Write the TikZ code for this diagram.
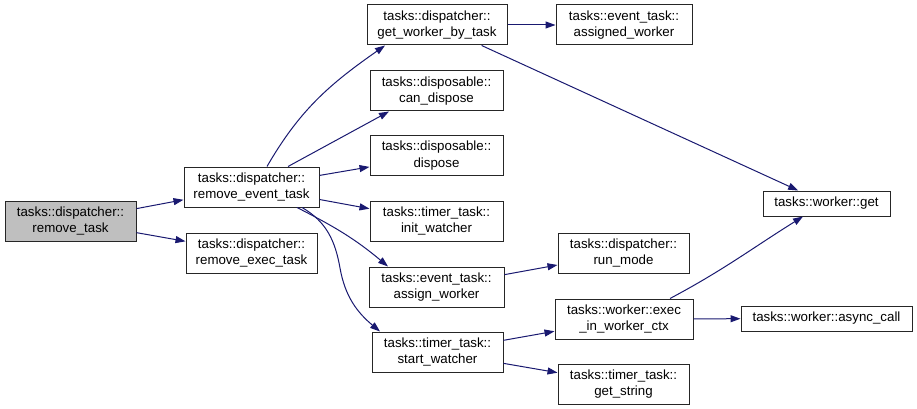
\documentclass[tikz,border=0pt]{standalone}
\usepackage{fontspec}
\setmainfont{Liberation Sans}
\usetikzlibrary{arrows.meta}
\definecolor{mblue}{HTML}{191970}
\definecolor{gray75}{HTML}{BFBFBF}
\begin{document}
\begin{tikzpicture}[x=1pt,y=1pt,
  box/.style={draw=black!85, line width=1pt, fill=white, inner sep=0pt, align=center, rectangle,
    minimum height=40, font=\fontsize{13.3}{16.5}\selectfont},
  edge/.style={draw=mblue, line width=1pt, -{Triangle[length=10pt,width=7pt]}, color=mblue}]
\path[use as bounding box] (0,0) rectangle (917,-409);
% column 1
\node[box, fill=gray75, minimum width=131] (rt) at (70.5,-221) {tasks::dispatcher::\\remove\_task};
% column 2
\node[box, minimum width=135] (ret) at (251.5,-187) {tasks::dispatcher::\\remove\_event\_task};
\node[box, minimum width=131] (rxt) at (251.5,-253) {tasks::dispatcher::\\remove\_exec\_task};
% column 3
\node[box, minimum width=140] (gwbt) at (437,-25) {tasks::dispatcher::\\get\_worker\_by\_task};
\node[box, minimum width=133] (cd) at (436.5,-91) {tasks::disposable::\\can\_dispose};
\node[box, minimum width=133] (disp) at (436.5,-155.5) {tasks::disposable::\\dispose};
\node[box, minimum width=133] (iw) at (436.5,-221) {tasks::timer\_task::\\init\_watcher};
\node[box, minimum width=135] (aw) at (436.5,-287) {tasks::event\_task::\\assign\_worker};
\node[box, minimum width=131] (sw) at (437.5,-352) {tasks::timer\_task::\\start\_watcher};
% column 4
\node[box, minimum width=136] (aswk) at (624,-25) {tasks::event\_task::\\assigned\_worker};
\node[box, minimum width=131] (rm) at (623.5,-253) {tasks::dispatcher::\\run\_mode};
\node[box, minimum width=138] (exec) at (624,-319) {tasks::worker::exec\\\_in\_worker\_ctx};
\node[box, minimum width=131] (gs) at (623.5,-384) {tasks::timer\_task::\\get\_string};
% column 5
\node[box, minimum width=127, minimum height=25] (get) at (826.5,-203.5) {tasks::worker::get};
\node[box, minimum width=171, minimum height=25] (ac) at (826.5,-318.5) {tasks::worker::async\_call};
\coordinate (swbend) at (340,-268);
% edges
\draw[edge] (rt) -- (ret);
\draw[edge] (rt) -- (rxt);
\draw[edge] ([xshift=15.5pt]ret.north) to[out=60,in=215] ([xshift=-52pt]gwbt.south);
\draw[edge] ([xshift=36.5pt]ret.north) -- ([xshift=-47.5pt]cd.south);
\draw[edge] (ret) -- (disp);
\draw[edge] (ret) -- (iw);
\draw[edge] ([xshift=45.5pt]ret.south) to[out=-27,in=140] ([xshift=-48.5pt]aw.north);
\draw[edge] ([xshift=50.5pt]ret.south) to[out=-30,in=100] (swbend) to[out=-80,in=140] ([xshift=-57.5pt]sw.north);
\draw[edge] (gwbt) -- (aswk);
\draw[edge] (gwbt) -- (get);
\draw[edge] (aw) -- (rm);
\draw[edge] (sw) -- (exec);
\draw[edge] (sw) -- (gs);
\draw[edge] ([xshift=46pt]exec.north) to[out=28,in=212] ([xshift=-23.5pt]get.south);
\draw[edge] (exec) -- (ac);
\end{tikzpicture}
\end{document}
